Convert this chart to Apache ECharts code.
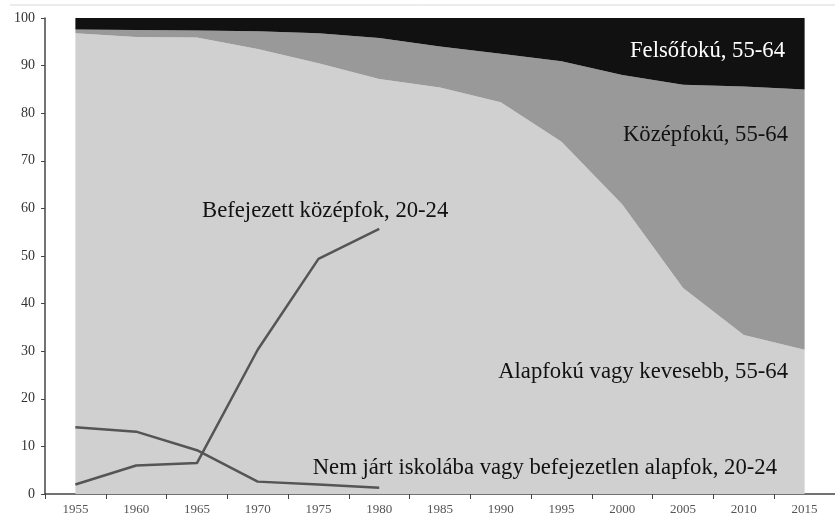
<!DOCTYPE html>
<html>
<head>
<meta charset="utf-8">
<script src="https://cdn.jsdelivr.net/npm/echarts@6/dist/echarts.min.js"></script>
<style>
  html, body { margin: 0; padding: 0; background: #fff; }
  #echarts_main { width: 835px; height: 520px; }
</style>
</head>
<body>
<div id="echarts_main"></div>
<script>
// évek
var years = ['1955', '1960', '1965', '1970', '1975', '1980', '1985', '1990', '1995', '2000', '2005', '2010', '2015'];
// 55-64 évesek iskolai végzettség szerint (%)
var alapfoku = [96.8, 96.0, 95.9, 93.5, 90.5, 87.2, 85.4, 82.3, 74.0, 60.8, 43.3, 33.4, 30.3];
var kozepfoku = [0.8, 1.5, 1.5, 3.7, 6.3, 8.6, 8.6, 10.2, 16.9, 27.2, 42.7, 52.2, 54.7];
var felsofoku = [2.4, 2.5, 2.6, 2.8, 3.2, 4.2, 6.0, 7.5, 9.1, 12.0, 14.0, 14.4, 15.0];
// 20-24 évesek
var befejezettKozepfok = [2.0, 6.0, 6.5, 30.3, 49.4, 55.7];
var nemJart = [14.0, 13.1, 9.2, 2.6, 2.0, 1.3];
var yTicks = [0, 10, 20, 30, 40, 50, 60, 70, 80, 90, 100];

var serif = '"Liberation Serif", "DejaVu Serif", serif';
var axisColor = '#444';
var labelFont = '22.7px ' + serif;

var myChart = echarts.init(document.getElementById('echarts_main'));

function areaSeries(name, data, color) {
    return {
        name: name,
        type: 'line',
        stack: 'kor55',
        data: data,
        symbol: 'none',
        silent: true,
        lineStyle: { width: 0 },
        areaStyle: { color: color, opacity: 1 },
        z: 1
    };
}

function lineSeries(name, data) {
    return {
        name: name,
        type: 'line',
        data: data,
        symbol: 'none',
        silent: true,
        lineStyle: { color: '#555', width: 2.5 },
        z: 3
    };
}

var option = {
    animation: false,
    grid: {
        left: 45,
        right: -2,
        top: 18,
        bottom: 26,
        containLabel: false
    },
    xAxis: {
        type: 'category',
        data: years,
        boundaryGap: true,
        axisLine: { show: true, lineStyle: { color: axisColor, width: 1.5 } },
        axisTick: { show: true, interval: 0, length: 5, lineStyle: { color: axisColor } },
        axisLabel: {
            interval: 0,
            color: '#555',
            fontFamily: serif,
            fontSize: 13,
            margin: 9
        },
        splitLine: { show: false }
    },
    yAxis: {
        type: 'value',
        min: yTicks[0],
        max: yTicks[yTicks.length - 1],
        interval: 10,
        axisLine: { show: true, lineStyle: { color: axisColor, width: 1.5 } },
        axisTick: { show: true, length: 4, lineStyle: { color: axisColor } },
        axisLabel: {
            color: '#333',
            fontFamily: serif,
            fontSize: 14,
            margin: 10
        },
        splitLine: { show: false }
    },
    series: [
        areaSeries('Alapfokú vagy kevesebb, 55-64', alapfoku, '#d0d0d0'),
        areaSeries('Középfokú, 55-64', kozepfoku, '#999999'),
        areaSeries('Felsőfokú, 55-64', felsofoku, '#111111'),
        lineSeries('Befejezett középfok, 20-24', befejezettKozepfok),
        lineSeries('Nem járt iskolába vagy befejezetlen alapfok, 20-24', nemJart)
    ],
    graphic: [
        {
            type: 'line',
            shape: { x1: 10, y1: 5, x2: 835, y2: 5 },
            style: { stroke: '#d8d8d8', lineWidth: 1 },
            silent: true
        },
        {
            type: 'text', right: 50, top: 40, z: 10,
            style: { text: 'Felsőfokú, 55-64', fill: '#fff', font: labelFont }
        },
        {
            type: 'text', right: 47, top: 124, z: 10,
            style: { text: 'Középfokú, 55-64', fill: '#111', font: labelFont }
        },
        {
            type: 'text', right: 47, top: 361, z: 10,
            style: { text: 'Alapfokú vagy kevesebb, 55-64', fill: '#111', font: labelFont }
        },
        {
            type: 'text', right: 58, top: 457, z: 10,
            style: { text: 'Nem járt iskolába vagy befejezetlen alapfok, 20-24', fill: '#111', font: labelFont }
        },
        {
            type: 'text', left: 202, top: 200, z: 10,
            style: { text: 'Befejezett középfok, 20-24', fill: '#111', font: labelFont }
        }
    ]
};

myChart.setOption(option);
</script>
</body>
</html>
